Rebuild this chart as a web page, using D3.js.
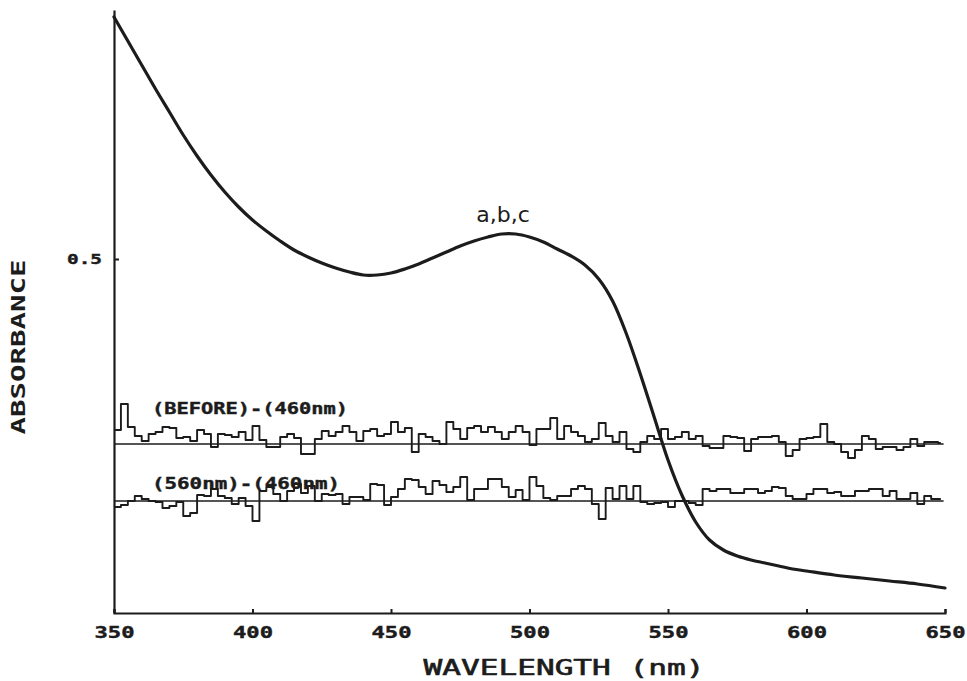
<!DOCTYPE html>
<html>
<head>
<meta charset="utf-8">
<script src="https://cdn.jsdelivr.net/npm/d3@7"></script>
<style>
  html, body { margin: 0; padding: 0; background: #ffffff; }
  svg { display: block; }
</style>
</head>
<body>
<svg id="chart" width="967" height="681"></svg>
<script>
// ---------- data ----------
const wavelengths = [350,355,360,365,370,375,380,385,390,395,400,405,410,415,420,425,430,435,440,445,450,455,460,465,470,475,480,485,490,495,500,505,510,515,520,525,530,535,540,545,550,555,560,565,570,575,580,585,590,595,600,610,620,630,640,650];
const absorbance = [0.742,0.718,0.694,0.670,0.647,0.624,0.603,0.584,0.567,0.552,0.539,0.528,0.518,0.509,0.502,0.496,0.491,0.487,0.484,0.484,0.486,0.490,0.495,0.501,0.507,0.513,0.518,0.522,0.525,0.525,0.522,0.517,0.510,0.503,0.494,0.480,0.458,0.425,0.385,0.342,0.299,0.264,0.237,0.219,0.209,0.203,0.199,0.196,0.193,0.190,0.188,0.184,0.181,0.178,0.175,0.171];

// difference spectra, sampled every 2.5 nm from 350 nm (deviation in 10^-3 absorbance from each baseline)
const diffStart = 350, diffStep = 2.5;
const diffBeforeBaseline = 0.315;
const diffBefore = [
  14,40,17,8,3,10,12,17,16,6,
  7,3,14,10,-3,10,9,7,12,4,
  18,4,-3,-3,7,10,6,-10,-10,5,
  13,8,12,18,12,3,13,15,8,10,
  22,12,16,-8,10,7,3,0,22,15,
  5,16,18,12,17,12,5,12,18,12,
  -1,15,15,26,5,18,12,8,2,5,
  21,8,2,12,-5,-8,2,8,5,15,
  5,7,12,5,8,-2,-4,-4,8,7,
  6,-7,5,7,7,8,2,-12,-6,5,
  6,7,20,2,0,-8,-14,-6,8,5,
  -5,-3,-3,-6,-3,5,-2,2,2,1];
const diff560Baseline = 0.258;
const diff560 = [
  -6,-4,0,5,2,0,-1,-7,-5,-1,
  -15,-12,6,5,12,5,3,-3,3,-5,
  -20,10,14,7,0,10,17,8,15,0,
  7,6,7,-3,4,4,1,17,16,-4,
  4,12,22,21,14,7,20,16,9,14,
  24,1,12,12,22,22,14,4,11,1,
  24,15,3,1,5,5,12,15,12,-3,
  -18,13,2,15,2,15,-1,-3,-2,-1,
  -6,0,0,-2,-4,12,10,12,12,8,
  8,12,12,8,10,14,13,5,2,2,
  7,12,12,8,9,5,5,10,10,12,
  12,5,10,2,2,8,-3,5,2,2];

const xTicks = [350,400,450,500,550,600,650];
const yTicks = [0.5];
const traceLabels = ["(BEFORE)-(460nm)", "(560nm)-(460nm)"];
const peakLabel = "a,b,c";
const xTitle = "WAVELENGTH (nm)";
const yTitle = "ABSORBANCE";

// ---------- drawing ----------
const ink = "#1c1c1c";
const plotFont = "'DejaVu Sans Mono', monospace";
const svg = d3.select("#chart");

const x = d3.scaleLinear().domain([350, 650]).range([114, 945]);
const y = d3.scaleLinear().domain([0.146, 0.749]).range([613, 10]);

// axes
const xAxis = svg.append("g")
  .attr("transform", `translate(0,${y.range()[0]})`)
  .call(d3.axisBottom(x).tickValues(xTicks).tickSize(-4).tickSizeOuter(-4).tickPadding(14).tickFormat(d3.format("d")));
const yAxis = svg.append("g")
  .attr("transform", `translate(${x.range()[0]},0)`)
  .call(d3.axisLeft(y).tickValues(yTicks).tickSize(-5).tickSizeOuter(0).tickPadding(12).tickFormat(d3.format(".1f")));

[xAxis, yAxis].forEach(g => {
  g.select(".domain").attr("stroke", ink).attr("stroke-width", 2.2);
  g.selectAll(".tick line").attr("stroke", ink).attr("stroke-width", 2);
  g.selectAll(".tick text")
    .attr("fill", ink)
    .attr("stroke", ink).attr("stroke-width", 0.4)
    .attr("font-family", plotFont)
    .attr("font-weight", "bold")
    .attr("font-size", 15);
});
xAxis.selectAll(".tick text").attr("textLength", 40).attr("lengthAdjust", "spacingAndGlyphs");
yAxis.selectAll(".tick text").attr("font-size", 14).attr("textLength", 35).attr("lengthAdjust", "spacingAndGlyphs");

// baselines of difference spectra
const baseLine = d3.line().x(d => x(d[0])).y(d => y(d[1]));
[diffBeforeBaseline, diff560Baseline].forEach(b => {
  svg.append("path")
    .attr("d", baseLine([[350, b], [649.5, b]]))
    .attr("fill", "none").attr("stroke", ink).attr("stroke-width", 1.6);
});

// difference traces (step-like plotter output)
const stepLine = d3.line().x(d => x(d[0])).y(d => y(d[1])).curve(d3.curveStepAfter);
function traceData(vals, base) {
  const pts = vals.map((v, i) => [diffStart + i * diffStep, base + v / 1000]);
  pts.push([648.5, base + vals[vals.length - 1] / 1000]);
  return pts;
}
svg.append("path")
  .attr("d", stepLine(traceData(diffBefore, diffBeforeBaseline)))
  .attr("fill", "none").attr("stroke", ink).attr("stroke-width", 1.9).attr("stroke-linejoin", "round");
svg.append("path")
  .attr("d", stepLine(traceData(diff560, diff560Baseline)))
  .attr("fill", "none").attr("stroke", ink).attr("stroke-width", 1.9).attr("stroke-linejoin", "round");

// main absorbance spectrum
const specLine = d3.line().x((d, i) => x(wavelengths[i])).y(d => y(d)).curve(d3.curveCatmullRom.alpha(0.5));
svg.append("path")
  .attr("d", specLine(absorbance))
  .attr("fill", "none").attr("stroke", ink).attr("stroke-width", 3.2).attr("stroke-linejoin", "round").attr("stroke-linecap", "round");

// trace labels
svg.append("text").text(traceLabels[0])
  .attr("x", 152).attr("y", 414)
  .attr("font-family", plotFont).attr("font-weight", "bold").attr("font-size", 15)
  .attr("stroke", ink).attr("stroke-width", 0.4)
  .attr("textLength", 196).attr("lengthAdjust", "spacingAndGlyphs").attr("fill", ink);
svg.append("text").text(traceLabels[1])
  .attr("x", 152).attr("y", 489)
  .attr("font-family", plotFont).attr("font-weight", "bold").attr("font-size", 15)
  .attr("stroke", ink).attr("stroke-width", 0.4)
  .attr("textLength", 188).attr("lengthAdjust", "spacingAndGlyphs").attr("fill", ink);

// peak annotation
svg.append("text").text(peakLabel)
  .attr("x", 503).attr("y", 222).attr("text-anchor", "middle")
  .attr("font-family", "'DejaVu Sans', sans-serif").attr("font-size", 22).attr("fill", ink);

// axis titles
svg.append("text").text(xTitle)
  .attr("x", 564).attr("y", 675).attr("text-anchor", "middle")
  .attr("font-family", plotFont).attr("font-size", 21)
  .attr("stroke", ink).attr("stroke-width", 0.6)
  .attr("textLength", 281).attr("lengthAdjust", "spacingAndGlyphs").attr("fill", ink);
svg.append("text").text(yTitle)
  .attr("transform", "translate(25,347) rotate(-90)").attr("text-anchor", "middle")
  .attr("font-family", plotFont).attr("font-weight", "bold").attr("font-size", 20)
  .attr("textLength", 175).attr("lengthAdjust", "spacingAndGlyphs").attr("fill", ink);
</script>
</body>
</html>
